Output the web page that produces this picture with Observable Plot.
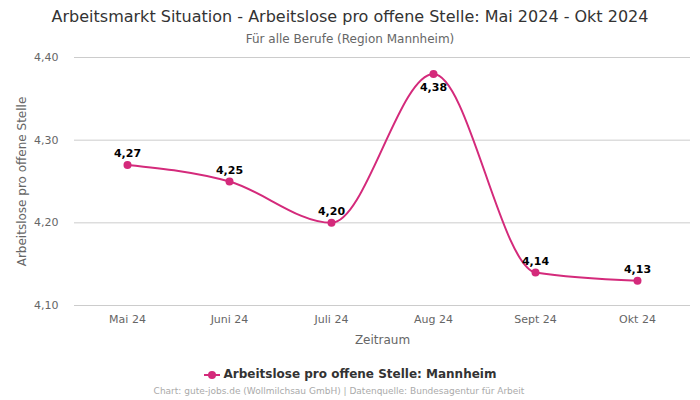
<!DOCTYPE html>
<html>
<head>
<meta charset="utf-8">
<script src="https://cdn.jsdelivr.net/npm/d3@7"></script>
<script src="https://cdn.jsdelivr.net/npm/@observablehq/plot@0.6"></script>
<style>
  html, body { margin: 0; padding: 0; background: #fff; }
  body { width: 700px; height: 400px; font-family: "DejaVu Sans", sans-serif; overflow: hidden; }
  .title { text-align: center; font-size: 16px; color: #333; margin-top: 7px; height: 20px; line-height: 20px; }
  .subtitle { text-align: center; font-size: 12px; color: #666; height: 20px; line-height: 20px; margin-top: 2px; }
  .legend { text-align: center; font-size: 12px; font-weight: bold; color: #333; height: 18px; line-height: 18px; margin-top: 14px; }
  .legend svg { vertical-align: middle; margin-right: 4px; }
  .footer { text-align: center; font-size: 9px; color: #aaa; margin-top: 3px; padding-right: 22px; }
  #chart { height: 302px; }
</style>
</head>
<body>
<div class="title">Arbeitsmarkt Situation - Arbeitslose pro offene Stelle: Mai 2024 - Okt 2024</div>
<div class="subtitle">Für alle Berufe (Region Mannheim)</div>
<div id="chart"></div>
<div class="legend"><svg width="16" height="10"><line x1="0" y1="5" x2="16" y2="5" stroke="#d42a7b" stroke-width="2"/><circle cx="8" cy="5" r="4" fill="#d42a7b"/></svg>Arbeitslose pro offene Stelle: Mannheim</div>
<div class="footer">Chart: gute-jobs.de (Wollmilchsau GmbH) | Datenquelle: Bundesagentur für Arbeit</div>
<script>
const months = ["Mai 24", "Juni 24", "Juli 24", "Aug 24", "Sept 24", "Okt 24"];
const values = [4.27, 4.25, 4.20, 4.38, 4.14, 4.13];
const yTicks = [4.10, 4.20, 4.30, 4.40];
const color = "#d42a7b";

const data = months.map((m, i) => ({month: m, value: values[i]}));
const fmt = v => v.toFixed(2).replace(".", ",");
const maxV = d3.max(values);

const chart = Plot.plot({
  width: 700,
  height: 302,
  marginTop: 8,
  marginBottom: 46,
  marginLeft: 74,
  marginRight: 10,
  style: {fontFamily: "DejaVu Sans, sans-serif", fontSize: "11px", color: "#666", overflow: "visible"},
  x: {type: "point", domain: months, padding: 0.5},
  y: {domain: [4.10, 4.40]},
  marks: [
    Plot.ruleY(yTicks, {stroke: "#ccc", strokeWidth: 1}),
    Plot.axisX({label: null, tickSize: 0, tickPadding: 10, fontSize: 11, color: "#666"}),
    Plot.text(["Zeitraum"], {frameAnchor: "bottom", lineAnchor: "middle", dy: 35, fontSize: 12, fill: "#666"}),
    Plot.axisY({ticks: yTicks, tickFormat: fmt, label: null, tickSize: 0, tickPadding: 16, fontSize: 11, color: "#666"}),
    Plot.text(["Arbeitslose pro offene Stelle"], {frameAnchor: "left", textAnchor: "middle", lineAnchor: "middle", dx: -52, rotate: -90, fontSize: 12, fill: "#666"}),
    Plot.line(data, {x: "month", y: "value", stroke: color, strokeWidth: 2, curve: "monotone-x"}),
    Plot.dot(data, {x: "month", y: "value", fill: color, r: 4}),
    Plot.text(data.filter(d => d.value !== maxV), {x: "month", y: "value", text: d => fmt(d.value), dy: -11, fontWeight: "bold", fontSize: 11, fill: "#000"}),
    Plot.text(data.filter(d => d.value === maxV), {x: "month", y: "value", text: d => fmt(d.value), dy: 13, fontWeight: "bold", fontSize: 11, fill: "#000"})
  ]
});
document.getElementById("chart").appendChild(chart);
</script>
</body>
</html>
